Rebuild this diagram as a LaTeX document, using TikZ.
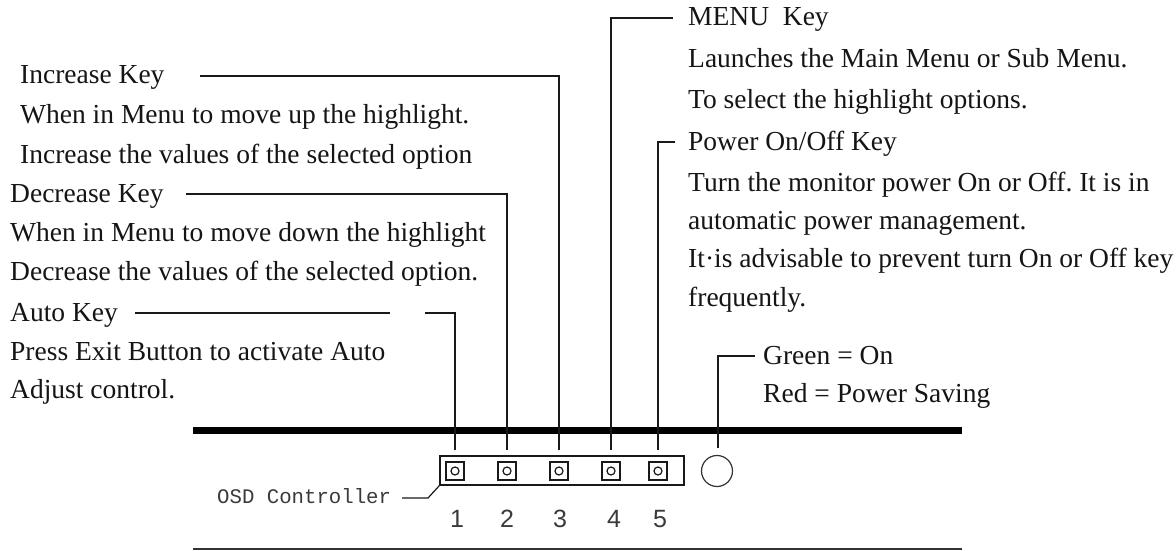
\documentclass[tikz,border=0pt]{standalone}
\usepackage{fontspec}
\setmainfont{Liberation Serif}
\newfontfamily\osdfont{Liberation Mono}
\newfontfamily\numfont{Liberation Sans}
\definecolor{txt}{HTML}{151515}
\definecolor{graytxt}{HTML}{3A3A3A}
\frenchspacing
\begin{document}
\begin{tikzpicture}[x=1pt,y=-1pt,
  lbl/.style={anchor=base west, inner sep=0pt, font=\fontsize{27.5}{32}\selectfont, text=txt},
  conn/.style={line width=1.4pt, draw=black!90},
  btn/.style={draw=black!90, line width=1.4pt, minimum size=18pt, inner sep=0pt},
  digit/.style={inner sep=0pt, font=\numfont\fontsize{25}{28}\selectfont, text=graytxt},
]
\useasboundingbox (0,0) rectangle (1176,551);
\fill[white] (0,0) rectangle (1176,551);

% panel lines
\coordinate (tl) at (193,430);
\coordinate (tr) at (962,430);
\coordinate (bl) at (193,549);
\coordinate (br) at (962,549);
\draw[line width=7pt] (tl) -- (tr);
\draw[line width=2pt, draw=black!80] (bl) -- (br);

% OSD box and buttons
\node[draw=black!90, line width=1.4pt, minimum width=244pt, minimum height=29pt, inner sep=0pt] (osd) at (562,470.5) {};
\foreach \i/\x in {1/455,2/507,3/559,4/611,5/658}{
  \node[btn] (b\i) at (\x,471) {};
  \node[draw=black!90, line width=1.2pt, circle, minimum size=8pt, inner sep=0pt] (c\i) at (\x,471) {};
  \coordinate (e\i) at (\x,450);
}
\node[draw=black!80, line width=1.2pt, circle, minimum size=31pt, inner sep=0pt] (led) at (717,471) {};
\coordinate (eled) at (718,448);

% digits
\node[digit] (d1) at (457,519) {1};
\node[digit] (d2) at (507,519) {2};
\node[digit] (d3) at (560,519) {3};
\node[digit] (d4) at (614,519) {4};
\node[digit] (d5) at (660,519) {5};

% OSD Controller label
\node[anchor=west, inner sep=0pt, font=\osdfont\fontsize{20.7}{24}\selectfont, text=graytxt] (osdlbl) at (217,496) {OSD Controller};
\coordinate (osdA) at (402,498);
\coordinate (osdB) at (428,498);
\draw[conn, line width=1.2pt] (osdA) -- (osdB) -- (osd.south west);

% left labels
\node[lbl] (inc1) at (20,84) {Increase Key};
\node[lbl] (inc2) at (20,123) {When in Menu to move up the highlight.};
\node[lbl] (inc3) at (20,163) {Increase the values of the selected option};
\node[lbl] (dec1) at (10,202) {Decrease Key};
\node[lbl] (dec2) at (10,241) {When in Menu to move down the highlight};
\node[lbl] (dec3) at (10,280) {Decrease the values of the selected option.};
\node[lbl] (auto1) at (10,321) {Auto Key};
\node[lbl] (auto2) at (10,360) {Press Exit Button to activate Auto};
\node[lbl] (auto3) at (10,398) {Adjust control.};

% right labels
\node[lbl] (menu1) at (688,26) {MENU\hspace{0.5em}Key};
\node[lbl] (menu2) at (688,68) {Launches the Main Menu or Sub Menu.};
\node[lbl] (menu3) at (688,108) {To select the highlight options.};
\node[lbl] (pow1) at (688,150) {Power On/Off Key};
\node[lbl] (pow2) at (688,191) {Turn the monitor power On or Off. It is in};
\node[lbl] (pow3) at (688,229) {automatic power management.};
\node[lbl] (pow4) at (688,267) {It·is advisable to prevent turn On or Off key};
\node[lbl] (pow5) at (688,306) {frequently.};
\node[lbl] (led1) at (763,364) {Green = On};
\node[lbl] (led2) at (763,402) {Red = Power Saving};

% connectors
\coordinate (incL) at (200,76);
\coordinate (decL) at (186,194);
\coordinate (autoL) at (135,313);
\coordinate (autoR) at (390,313);
\coordinate (k1L) at (425,313);
\coordinate (menuL) at (673,18);
\coordinate (powL) at (675,142);
\coordinate (ledL) at (755,356);

\draw[conn] (incL) -| (e3);
\draw[conn] (decL) -| (e2);
\draw[conn] (autoL) -- (autoR);
\draw[conn] (k1L) -| (e1);
\draw[conn] (menuL) -| (e4);
\draw[conn] (powL) -| (e5);
\draw[conn] (ledL) -| (eled);
\end{tikzpicture}
\end{document}
